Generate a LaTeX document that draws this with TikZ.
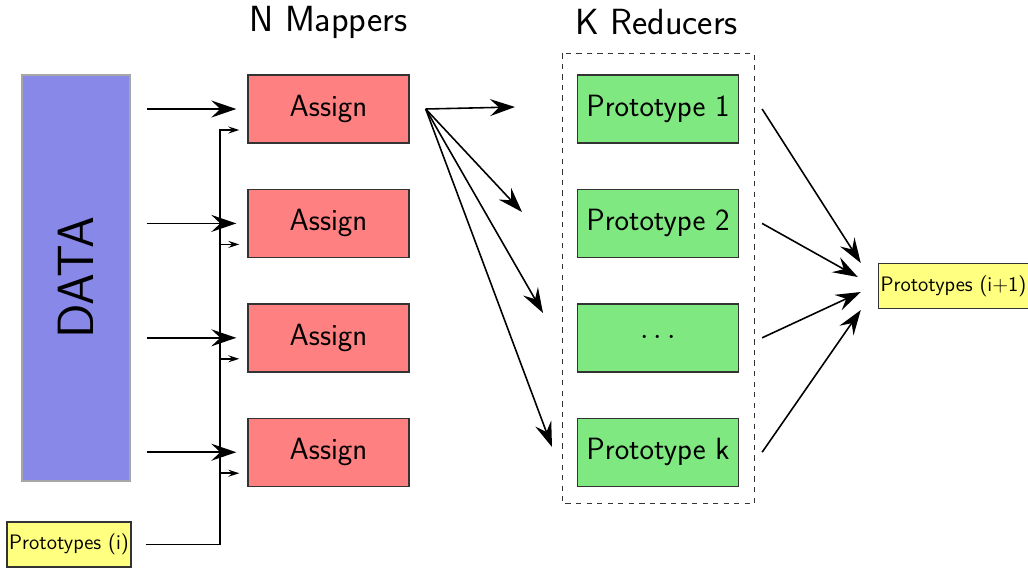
\documentclass[tikz,border=0pt]{standalone}
\usetikzlibrary{positioning, arrows.meta}

\definecolor{datablue}{HTML}{8888E8}
\definecolor{mapred}{HTML}{FF8080}
\definecolor{reducegreen}{HTML}{80E880}
\definecolor{protoyellow}{HTML}{FFFF80}

\tikzset{
	mapper/.style={draw=black!80, fill=mapred, line width=0.8pt, minimum width=3.22cm, minimum height=1.36cm, font=\sffamily\fontsize{17.5}{17.5}\selectfont},
	reducer/.style={mapper, fill=reducegreen},
	protos/.style={draw=black!80, fill=protoyellow, line width=0.8pt, inner xsep=1.2pt, minimum height=0.9cm, font=\sffamily\fontsize{11.9}{11.9}\selectfont},
	heading/.style={font=\sffamily\fontsize{20.7}{20.7}\selectfont},
	big/.style={-{Stealth[length=0.5cm, width=0.34cm, inset=0.18cm]}, line width=0.9pt},
	small/.style={-{Stealth[length=0.22cm, width=0.14cm, inset=0.08cm]}, line width=0.9pt}
}

\begin{document}
\begin{tikzpicture}[node distance=0.9cm]
	\useasboundingbox (0,0) rectangle (20.56,-11.36);

	\node[draw=black!35, fill=datablue, line width=0.8pt, minimum width=2.16cm, minimum height=8.12cm,
		label={[rotate=90, font=\sffamily\fontsize{29}{29}\selectfont]center:DATA}] (data) at (1.52,-5.56) {};

	\node[mapper] (a1) at (6.57,-2.18) {Assign};
	\node[mapper, below=of a1] (a2) {Assign};
	\node[mapper, below=of a2] (a3) {Assign};
	\node[mapper, below=of a3] (a4) {Assign};

	\node[reducer, right=3.34cm of a1] (p1) {Prototype 1};
	\node[reducer, right=3.34cm of a2] (p2) {Prototype 2};
	\node[reducer, right=3.34cm of a3] (p3) {$\cdots$};
	\node[reducer, right=3.34cm of a4] (p4) {Prototype k};

	\node[protos] (pi) at (1.38,-10.89) {Prototypes (i)};
	\node[protos] (pn) at (19.07,-5.72) {Prototypes (i+1)};

	\node[heading] (maptitle) at (6.57,-0.44) {N Mappers};
	\node[heading] (redtitle) at (13.13,-0.44) {K Reducers};

	\draw[dashed, line width=0.6pt, black!80] ([shift={(-0.28,0.42)}]p1.north west) rectangle ([shift={(0.3,-0.34)}]p4.south east);

	% data to mappers
	\draw[big] ([xshift=0.32cm]data.east |- a1) -- ([xshift=-0.22cm]a1.west);
	\draw[big] ([xshift=0.32cm]data.east |- a2) -- ([xshift=-0.22cm]a2.west);
	\draw[big] ([xshift=0.32cm]data.east |- a3) -- ([xshift=-0.22cm]a3.west);
	\draw[big] ([xshift=0.32cm]data.east |- a4) -- ([xshift=-0.22cm]a4.west);

	% prototypes (i) to every mapper
	\coordinate (bus) at (4.4,0);
	\coordinate (s1) at ([yshift=-0.42cm]a1.west);
	\coordinate (s2) at ([yshift=-0.42cm]a2.west);
	\coordinate (s3) at ([yshift=-0.42cm]a3.west);
	\coordinate (s4) at ([yshift=-0.42cm]a4.west);
	\draw[small] ([xshift=0.28cm]pi.east) -| (bus |- s1) -- ([xshift=-0.16cm]s1);
	\draw[small] (bus |- s2) -- ([xshift=-0.16cm]s2);
	\draw[small] (bus |- s3) -- ([xshift=-0.16cm]s3);
	\draw[small] (bus |- s4) -- ([xshift=-0.16cm]s4);

	% mapper to reducers
	\coordinate (fan) at ([xshift=0.32cm]a1.east);
	\coordinate (f1) at (10.3,-2.14);
	\coordinate (f2) at (10.44,-4.24);
	\coordinate (f3) at (10.86,-6.26);
	\coordinate (f4) at (11.04,-8.94);
	\draw[big] (fan) -- (f1);
	\draw[big] (fan) -- (f2);
	\draw[big] (fan) -- (f3);
	\draw[big] (fan) -- (f4);

	% reducers to new prototypes
	\draw[big] ([xshift=0.46cm]p1.east) -- ([shift={(-0.34,0.46)}]pn.west);
	\draw[big] ([xshift=0.46cm]p2.east) -- ([shift={(-0.4,0.18)}]pn.west);
	\draw[big] ([xshift=0.46cm]p3.east) -- ([shift={(-0.34,-0.12)}]pn.west);
	\draw[big] ([xshift=0.46cm]p4.east) -- ([shift={(-0.34,-0.48)}]pn.west);
\end{tikzpicture}
\end{document}
